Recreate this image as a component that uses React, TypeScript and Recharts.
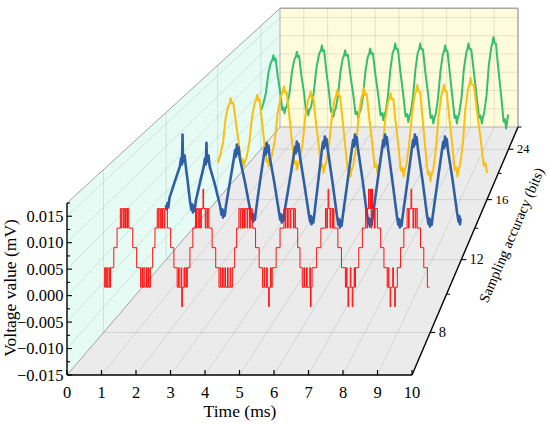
import React from 'react';
import { LineChart, Line, XAxis, YAxis, Customized } from 'recharts';

// ---------- data ----------
const Y_MIN = -0.015;
const Y_MAX = 0.0175;
const X_TICKS = [0, 1, 2, 3, 4, 5, 6, 7, 8, 9, 10];
const Y_TICKS = [-0.015, -0.0125, -0.01, -0.0075, -0.005, -0.0025, 0, 0.0025, 0.005, 0.0075, 0.01, 0.0125, 0.015, 0.0175];
const Y_GRID = [-0.01, -0.005, 0, 0.005, 0.01, 0.015];
const DEPTH_LABELS = ['8', '12', '16', '24'];
const DEPTH_POS = [0.125, 0.375, 0.625, 0.875];
const DEPTH_MINOR = [0.25, 0.5, 0.75, 1];

// 8 bits (red) – [time ms, value]
const RED_POINTS: [number, number][] = [
  [0, -0.002], [0.02, -0.0059], [0.05, -0.002], [0.07, -0.0059], [0.1, -0.002], [0.12, -0.0059], [0.16, -0.002], [0.18, -0.0059],
  [0.2, -0.002], [0.3, 0.002], [0.4, 0.0059], [0.5, 0.0098], [0.53, 0.0059], [0.55, 0.0098], [0.6, 0.0059], [0.62, 0.0098],
  [0.66, 0.0059], [0.68, 0.0098], [0.72, 0.0059], [0.73, 0.0098], [0.76, 0.0059], [0.88, 0.002], [1.0, -0.002], [1.12, -0.0059],
  [1.16, -0.002], [1.18, -0.0059], [1.22, -0.002], [1.25, -0.0059], [1.3, -0.002], [1.32, -0.0059], [1.36, -0.002], [1.38, -0.0059],
  [1.42, -0.002], [1.49, 0.002], [1.56, 0.0059], [1.63, 0.0098], [1.66, 0.0059], [1.68, 0.0098], [1.72, 0.0059], [1.74, 0.0098],
  [1.77, 0.0059], [1.79, 0.0098], [1.84, 0.0059], [1.86, 0.0098], [1.94, 0.0059], [2.04, 0.002], [2.14, -0.002], [2.24, -0.0059],
  [2.28, -0.002], [2.3, -0.0059], [2.36, -0.002], [2.38, -0.0098], [2.4, -0.0059], [2.45, -0.002], [2.47, -0.0059], [2.51, -0.002],
  [2.53, -0.0059], [2.55, -0.002], [2.63, 0.002], [2.72, 0.0059], [2.8, 0.0098], [2.83, 0.0059], [2.85, 0.0098], [2.9, 0.0059],
  [2.92, 0.0098], [2.96, 0.0059], [2.98, 0.0098], [3.03, 0.0137], [3.05, 0.0098], [3.1, 0.0059], [3.12, 0.0098], [3.16, 0.0059],
  [3.18, 0.0098], [3.21, 0.0059], [3.31, 0.002], [3.42, -0.002], [3.52, -0.0059], [3.56, -0.002], [3.58, -0.0059], [3.63, -0.002],
  [3.65, -0.0059], [3.7, -0.002], [3.72, -0.0059], [3.78, -0.002], [3.8, -0.0059], [3.86, -0.002], [3.88, -0.0059], [3.93, -0.002],
  [4.0, 0.002], [4.06, 0.0059], [4.13, 0.0098], [4.17, 0.0059], [4.19, 0.0098], [4.24, 0.0059], [4.26, 0.0098], [4.3, 0.0059],
  [4.32, 0.0098], [4.38, 0.0059], [4.4, 0.0098], [4.46, 0.0059], [4.48, 0.0098], [4.54, 0.0059], [4.64, 0.002], [4.75, -0.002],
  [4.85, -0.0059], [4.9, -0.002], [4.92, -0.0059], [4.98, -0.002], [5.0, -0.0059], [5.04, -0.0098], [5.06, -0.0059], [5.1, -0.002],
  [5.12, -0.0059], [5.15, -0.002], [5.27, 0.002], [5.39, 0.0059], [5.51, 0.0098], [5.55, 0.0059], [5.57, 0.0098], [5.62, 0.0059],
  [5.64, 0.0098], [5.7, 0.0059], [5.72, 0.0098], [5.8, 0.0059], [5.82, 0.0098], [5.86, 0.0059], [5.93, 0.002], [6.0, -0.002],
  [6.07, -0.0059], [6.12, -0.002], [6.14, -0.0059], [6.2, -0.002], [6.22, -0.0059], [6.3, -0.002], [6.32, -0.0098], [6.34, -0.0059],
  [6.37, -0.002], [6.51, 0.002], [6.64, 0.0059], [6.78, 0.0098], [6.82, 0.0059], [6.84, 0.0098], [6.86, 0.0137], [6.88, 0.0098],
  [6.92, 0.0059], [6.94, 0.0098], [7.0, 0.0059], [7.02, 0.0098], [7.04, 0.0059], [7.16, 0.002], [7.27, -0.002], [7.39, -0.0059],
  [7.42, -0.002], [7.44, -0.0059], [7.47, -0.0098], [7.49, -0.0059], [7.54, -0.002], [7.56, -0.0059], [7.6, -0.0098], [7.62, -0.0059],
  [7.66, -0.002], [7.68, -0.0059], [7.7, -0.002], [7.8, 0.002], [7.91, 0.0059], [8.01, 0.0098], [8.05, 0.0059], [8.07, 0.0098],
  [8.1, 0.0137], [8.12, 0.0098], [8.16, 0.0137], [8.18, 0.0059], [8.2, 0.0137], [8.22, 0.0098], [8.28, 0.0059], [8.3, 0.0098],
  [8.37, 0.0059], [8.47, 0.002], [8.57, -0.002], [8.67, -0.0059], [8.7, -0.002], [8.72, -0.0059], [8.76, -0.0098], [8.78, -0.0059],
  [8.84, -0.002], [8.86, -0.0059], [8.9, -0.0098], [8.92, -0.0059], [8.98, -0.002], [9.08, 0.002], [9.18, 0.0059], [9.28, 0.0098],
  [9.32, 0.0059], [9.34, 0.0098], [9.4, 0.0137], [9.42, 0.0098], [9.46, 0.0059], [9.48, 0.0098], [9.53, 0.0059], [9.55, 0.0098],
  [9.59, 0.0059], [9.69, 0.002], [9.79, -0.002], [9.9, -0.0059], [9.96, -0.0059],
];

// 12 bits (blue)
const BLUE_POINTS: [number, number][] = [
  [0, -0.003], [0.02, -0.004], [0.05, -0.0026], [0.08, -0.0036], [0.12, -0.0014], [0.3, 0.0022],
  [0.47, 0.0055], [0.51, 0.0073], [0.54, 0.0059], [0.56, 0.0125], [0.57, 0.0085], [0.6, 0.0065], [0.63, 0.0079], [0.67, 0.0055], [0.74, 0.0019],
  [0.81, -0.0021], [0.86, -0.0041], [0.89, -0.0029], [0.91, -0.0047], [0.94, -0.0033], [0.97, -0.0043], [1.01, -0.0021], [1.15, 0.0019],
  [1.28, 0.0055], [1.32, 0.0073], [1.35, 0.0059], [1.37, 0.0107], [1.38, 0.0085], [1.41, 0.0065], [1.44, 0.0079], [1.48, 0.0055], [1.66, 0.0014],
  [1.83, -0.0032], [1.88, -0.0052], [1.91, -0.004], [1.93, -0.0058], [1.96, -0.0044], [1.99, -0.0054], [2.03, -0.0032], [2.17, 0.0022],
  [2.3, 0.0073], [2.34, 0.0091], [2.37, 0.0077], [2.4, 0.0103], [2.43, 0.0083], [2.46, 0.0097], [2.5, 0.0073], [2.68, 0.0018],
  [2.85, -0.0041], [2.9, -0.0061], [2.93, -0.0049], [2.95, -0.0067], [2.98, -0.0053], [3.01, -0.0063], [3.05, -0.0041], [3.18, 0.002],
  [3.31, 0.0077], [3.35, 0.0095], [3.38, 0.0081], [3.41, 0.0107], [3.44, 0.0087], [3.47, 0.0101], [3.51, 0.0077], [3.67, 0.0019],
  [3.82, -0.0043], [3.87, -0.0063], [3.9, -0.0051], [3.92, -0.0069], [3.95, -0.0055], [3.98, -0.0065], [4.02, -0.0043], [4.18, 0.002],
  [4.33, 0.008], [4.37, 0.0098], [4.4, 0.0084], [4.43, 0.011], [4.46, 0.009], [4.49, 0.0104], [4.53, 0.008], [4.68, 0.0018],
  [4.83, -0.0047], [4.88, -0.0067], [4.91, -0.0055], [4.93, -0.0073], [4.96, -0.0059], [4.99, -0.0069], [5.03, -0.0047], [5.16, 0.0024],
  [5.28, 0.0091], [5.32, 0.0109], [5.35, 0.0095], [5.38, 0.0121], [5.41, 0.0101], [5.44, 0.0115], [5.48, 0.0091], [5.64, 0.002],
  [5.79, -0.0054], [5.84, -0.0074], [5.87, -0.0062], [5.89, -0.008], [5.92, -0.0066], [5.95, -0.0076], [5.99, -0.0054], [6.15, 0.0022],
  [6.3, 0.0095], [6.34, 0.0113], [6.37, 0.0099], [6.4, 0.0125], [6.43, 0.0105], [6.46, 0.0119], [6.5, 0.0095], [6.66, 0.0024],
  [6.81, -0.0052], [6.86, -0.0072], [6.89, -0.006], [6.91, -0.0078], [6.94, -0.0064], [6.97, -0.0074], [7.01, -0.0052], [7.17, 0.0024],
  [7.32, 0.0095], [7.36, 0.0113], [7.39, 0.0099], [7.42, 0.0125], [7.45, 0.0105], [7.48, 0.0119], [7.52, 0.0095], [7.67, 0.0022],
  [7.82, -0.0054], [7.87, -0.0074], [7.9, -0.0062], [7.92, -0.008], [7.95, -0.0066], [7.98, -0.0076], [8.02, -0.0054], [8.18, 0.0022],
  [8.33, 0.0095], [8.37, 0.0113], [8.4, 0.0099], [8.43, 0.0125], [8.46, 0.0105], [8.49, 0.0119], [8.53, 0.0095], [8.69, 0.0024],
  [8.84, -0.0052], [8.89, -0.0072], [8.92, -0.006], [8.94, -0.0078], [8.97, -0.0064], [9.0, -0.0074], [9.04, -0.0052], [9.2, 0.0022],
  [9.35, 0.0091], [9.39, 0.0109], [9.42, 0.0095], [9.45, 0.0121], [9.48, 0.0101], [9.51, 0.0115], [9.55, 0.0091], [9.71, 0.0024],
  [9.86, -0.0047], [9.91, -0.0067], [9.94, -0.0055], [9.96, -0.0073], [9.98, -0.006],
];

// 16 bits (yellow)
const YELLOW_POINTS: [number, number][] = [
  [0, -0.0062], [0.09, -0.0042], [0.19, -0.0012], [0.28, 0.0045], [0.38, 0.0075], [0.44, 0.0083], [0.47, 0.0095], [0.5, 0.0082],
  [0.57, 0.0084], [0.67, 0.0034], [0.76, -0.0009], [0.86, -0.0059], [0.92, -0.0052], [0.96, -0.007], [1.0, -0.0058],
  [1.06, -0.0049], [1.16, -0.0014], [1.26, 0.0047], [1.36, 0.0082], [1.42, 0.0091], [1.46, 0.0103], [1.5, 0.0088],
  [1.54, 0.0092], [1.63, 0.0039], [1.71, -0.0006], [1.8, -0.0059], [1.85, -0.0052], [1.88, -0.007], [1.93, -0.0057],
  [1.99, -0.0047], [2.11, -0.0007], [2.22, 0.006], [2.34, 0.01], [2.41, 0.0111], [2.45, 0.0123], [2.49, 0.0108],
  [2.55, 0.0109], [2.65, 0.005], [2.74, -0.0005], [2.84, -0.0064], [2.9, -0.0058], [2.94, -0.0078], [2.98, -0.0063],
  [3.04, -0.0055], [3.14, -0.0017], [3.24, 0.005], [3.34, 0.0088], [3.4, 0.0099], [3.44, 0.0111], [3.48, 0.0096],
  [3.54, 0.0097], [3.63, 0.0039], [3.73, -0.0014], [3.82, -0.0072], [3.88, -0.0066], [3.92, -0.0086], [3.96, -0.0071],
  [4.02, -0.0062], [4.12, -0.0021], [4.23, 0.005], [4.33, 0.0091], [4.39, 0.0102], [4.43, 0.0115], [4.47, 0.0101],
  [4.53, 0.01], [4.63, 0.0039], [4.72, -0.0019], [4.82, -0.008], [4.88, -0.0073], [4.92, -0.0095], [4.96, -0.0079],
  [5.02, -0.007], [5.12, -0.0025], [5.22, 0.0049], [5.32, 0.0094], [5.38, 0.0106], [5.42, 0.0119], [5.46, 0.0103],
  [5.52, 0.0105], [5.62, 0.0044], [5.72, -0.0011], [5.82, -0.0072], [5.88, -0.0066], [5.92, -0.0086], [5.96, -0.0071],
  [6.02, -0.0063], [6.12, -0.0023], [6.21, 0.0044], [6.31, 0.0084], [6.37, 0.0094], [6.41, 0.0107], [6.45, 0.0092],
  [6.51, 0.0093], [6.6, 0.0033], [6.7, -0.0021], [6.79, -0.0081], [6.85, -0.0074], [6.89, -0.0095], [6.93, -0.0079],
  [6.99, -0.0069], [7.09, -0.0022], [7.2, 0.0054], [7.3, 0.0101], [7.36, 0.0112], [7.4, 0.0127], [7.44, 0.0111],
  [7.5, 0.011], [7.6, 0.0042], [7.69, -0.0022], [7.79, -0.009], [7.85, -0.0083], [7.89, -0.0107], [7.93, -0.0089],
  [7.99, -0.008], [8.09, -0.003], [8.19, 0.005], [8.29, 0.01], [8.35, 0.0113], [8.39, 0.0127], [8.43, 0.0112],
  [8.49, 0.0111], [8.59, 0.0046], [8.69, -0.0014], [8.79, -0.0079], [8.85, -0.0073], [8.89, -0.0095], [8.93, -0.0079],
  [8.99, -0.0067], [9.09, -0.0017], [9.18, 0.0066], [9.28, 0.0116], [9.34, 0.0128], [9.38, 0.0144], [9.42, 0.0128],
  [9.5, 0.0127], [9.62, 0.0061], [9.75, -0.0003], [9.87, -0.0069], [9.93, -0.0062], [9.99, -0.0086],
];

// 24 bits (green)
const GREEN_POINTS: [number, number][] = [
  [0, -0.0047], [0.1, -0.0028], [0.2, -0.0001], [0.3, 0.0052], [0.4, 0.0079], [0.46, 0.0086], [0.5, 0.0098], [0.54, 0.0084],
  [0.59, 0.0089], [0.68, 0.0041], [0.77, 0.0002], [0.86, -0.0046], [0.91, -0.004], [0.95, -0.0055], [0.99, -0.0042],
  [1.05, -0.0035], [1.15, -0.0003], [1.25, 0.0055], [1.35, 0.0087], [1.41, 0.0095], [1.45, 0.0107], [1.49, 0.0093],
  [1.54, 0.0096], [1.63, 0.0045], [1.73, 0.0002], [1.82, -0.0049], [1.87, -0.0043], [1.91, -0.006], [1.95, -0.0046],
  [2.02, -0.0038], [2.13, -0.0001], [2.24, 0.0065], [2.35, 0.0102], [2.42, 0.0111], [2.46, 0.0124], [2.5, 0.0109],
  [2.55, 0.0111], [2.64, 0.0055], [2.74, 0.0005], [2.83, -0.0051], [2.88, -0.0045], [2.92, -0.0064], [2.96, -0.005],
  [3.02, -0.0042], [3.11, -0.0008], [3.21, 0.0055], [3.3, 0.0089], [3.36, 0.0098], [3.4, 0.0111], [3.44, 0.0097],
  [3.51, 0.0099], [3.61, 0.0045], [3.72, -0.0003], [3.82, -0.0057], [3.88, -0.0051], [3.93, -0.0069], [3.97, -0.0055],
  [4.03, -0.0046], [4.12, -0.0009], [4.22, 0.0056], [4.31, 0.0093], [4.37, 0.0102], [4.41, 0.0116], [4.45, 0.0102],
  [4.52, 0.0103], [4.62, 0.0047], [4.73, -0.0004], [4.83, -0.006], [4.89, -0.0054], [4.94, -0.0073], [4.98, -0.0058],
  [5.04, -0.0049], [5.13, -0.0007], [5.23, 0.0063], [5.32, 0.0105], [5.38, 0.0115], [5.42, 0.0129], [5.46, 0.0114],
  [5.53, 0.0114], [5.63, 0.0054], [5.74, -0.0003], [5.84, -0.0063], [5.9, -0.0057], [5.95, -0.0078], [5.99, -0.0062],
  [6.05, -0.0053], [6.14, -0.0011], [6.24, 0.0062], [6.33, 0.0104], [6.39, 0.0115], [6.43, 0.0129], [6.47, 0.0114],
  [6.54, 0.0114], [6.64, 0.0052], [6.75, -0.0005], [6.85, -0.0067], [6.91, -0.0061], [6.96, -0.0082], [7.0, -0.0066],
  [7.06, -0.0057], [7.15, -0.0015], [7.25, 0.0057], [7.34, 0.0099], [7.4, 0.011], [7.44, 0.0124], [7.48, 0.0109],
  [7.53, 0.0109], [7.63, 0.0049], [7.72, -0.0007], [7.82, -0.0067], [7.87, -0.0061], [7.91, -0.0082], [7.95, -0.0066],
  [8.0, -0.0057], [8.1, -0.0013], [8.19, 0.006], [8.29, 0.0104], [8.34, 0.0115], [8.38, 0.0129], [8.42, 0.0114],
  [8.49, 0.0114], [8.6, 0.0052], [8.7, -0.0005], [8.81, -0.0067], [8.87, -0.0061], [8.92, -0.0082], [8.96, -0.0066],
  [9.01, -0.0055], [9.11, -0.0007], [9.2, 0.0071], [9.3, 0.0119], [9.35, 0.0131], [9.39, 0.0146], [9.43, 0.013],
  [9.49, 0.0128], [9.59, 0.0059], [9.7, -0.0008], [9.8, -0.0077], [9.85, -0.007], [9.9, -0.0095], [9.98, -0.0058],
];

// ---------- layout (3D box geometry) ----------
const FL = 67, FR = 412, FB = 375, FT = 203; // front face
const BL = 280, BR = 518, BB = 127; // back face
const SB = (BR - BL) / (FR - FL);
const VX = (BL - FL * SB) / (1 - SB);
const VY = (BB - FB * SB) / (1 - SB);
const KZ = 1 / SB - 1;
const sAt = (z: number) => 1 / (1 + KZ * z);
const proj = (x: number, y: number, z: number): [number, number] => {
  const s = sAt(z);
  return [VX + (x - VX) * s, VY + (y - VY) * s];
};
const fx = (t: number) => FL + (t / 10) * (FR - FL);
const fy = (v: number) => FB - ((v - Y_MIN) / (Y_MAX - Y_MIN)) * (FB - FT);

const TXT = { fontFamily: 'Liberation Serif' };
const GRID = 'rgba(0,0,0,0.13)';

const pts = (arr: [number, number][]) => arr.map((p) => p.join(',')).join(' ');

function Planes() {
  const floor: [number, number][] = [proj(FL, FB, 0), proj(FR, FB, 0), proj(FR, FB, 1), proj(FL, FB, 1)];
  const side: [number, number][] = [proj(FL, FB, 0), proj(FL, FT, 0), proj(FL, FT, 1), proj(FL, FB, 1)];
  const back: [number, number][] = [proj(FL, FT, 1), proj(FR, FT, 1), proj(FR, FB, 1), proj(FL, FB, 1)];
  const seg = (a: [number, number], b: [number, number], key: string, stroke = GRID, w = 0.8) => (
    <line key={key} x1={a[0]} y1={a[1]} x2={b[0]} y2={b[1]} stroke={stroke} strokeWidth={w} />
  );
  const inner = X_TICKS.filter((t) => t > 0 && t < 10);
  return (
    <g>
      <polygon points={pts(floor)} fill="#ebebeb" />
      <polygon points={pts(side)} fill="#e5fbf4" />
      <polygon points={pts(back)} fill="#fffcdc" />
      {inner.map((t) => seg(proj(fx(t), FB, 0), proj(fx(t), FB, 1), 'ft' + t))}
      {DEPTH_POS.map((z) => seg(proj(FL, FB, z), proj(FR, FB, z), 'fz' + z))}
      {Y_GRID.map((v) => seg(proj(FL, fy(v), 0), proj(FL, fy(v), 1), 'sv' + v))}
      {DEPTH_POS.map((z) => seg(proj(FL, FB, z), proj(FL, FT, z), 'sz' + z))}
      {inner.map((t) => seg(proj(fx(t), FB, 1), proj(fx(t), FT, 1), 'bt' + t))}
      {Y_GRID.map((v) => seg(proj(FL, fy(v), 1), proj(FR, fy(v), 1), 'bv' + v))}
      {seg(proj(FL, FT, 0), proj(FL, FT, 1), 'e1', '#a0a0a0', 1)}
      {seg(proj(FL, FB, 0), proj(FL, FB, 1), 'e2', '#a0a0a0', 1)}
      {seg(proj(FL, FT, 1), proj(FR, FT, 1), 'e3', '#a8a8a8', 1.5)}
      {seg(proj(FR, FT, 1), proj(FR, FB, 1), 'e4', '#a8a8a8', 1.5)}
      {seg(proj(FL, FB, 1), proj(FR, FB, 1), 'e5', '#b0b0b0', 1)}
      {seg(proj(FL, FT, 1), proj(FL, FB, 1), 'e6', '#b0b0b0', 1)}
    </g>
  );
}

function DepthAxis() {
  const a = proj(FR, FB, 0);
  const b = proj(FR, FB, 1);
  const ang = (Math.atan2(b[1] - a[1], b[0] - a[0]) * 180) / Math.PI;
  return (
    <g>
      <line x1={a[0]} y1={a[1]} x2={b[0]} y2={b[1]} stroke="#000" strokeWidth={1.4} />
      {DEPTH_POS.map((z, i) => {
        const [x, y] = proj(FR, FB, z);
        const fs = 6 + 9 * sAt(z);
        return (
          <g key={'d' + i}>
            <line x1={x} y1={y} x2={x + 5} y2={y} stroke="#000" strokeWidth={1.1} />
            <text x={x + 8.5} y={y + fs * 0.34} fontSize={fs} style={TXT} fill="#000">
              {DEPTH_LABELS[i]}
            </text>
          </g>
        );
      })}
      {DEPTH_MINOR.map((z) => {
        const [x, y] = proj(FR, FB, z);
        return <line key={'m' + z} x1={x} y1={y} x2={x + 3.5} y2={y} stroke="#000" strokeWidth={1} />;
      })}
      <text transform={`translate(516,237) rotate(${ang})`} textAnchor="middle" fontSize={14.5} style={TXT} fill="#000">
        Sampling accuracy (bits)
      </text>
    </g>
  );
}

function Titles() {
  return (
    <g>
      <text x={240} y={417} textAnchor="middle" fontSize={17.5} style={TXT} fill="#000">
        Time (ms)
      </text>
      <text transform="translate(15.5,288) rotate(-90)" textAnchor="middle" fontSize={17.5} style={TXT} fill="#000">
        Voltage value (mV)
      </text>
    </g>
  );
}

const fmtY = (v: number) => (v < 0 ? '\u2212' : '') + Math.abs(v).toFixed(3);

const XTick = (props: any) => {
  const { x, y, payload } = props;
  return (
    <g>
      <line x1={x} y1={y} x2={x} y2={y - 5} stroke="#000" strokeWidth={1.2} />
      <text x={x} y={y + 23} textAnchor="middle" fontSize={16.5} style={TXT} fill="#000">
        {payload.value}
      </text>
    </g>
  );
};

const YTick = (props: any) => {
  const { x, y, payload } = props;
  const v = payload.value as number;
  const major = Math.abs(Math.round(v * 10000)) % 50 === 0;
  return (
    <g>
      <line x1={x} y1={y} x2={x + (major ? 5 : 3)} y2={y} stroke="#000" strokeWidth={1.1} />
      {major && (
        <text x={x - 3.5} y={y + 5.8} textAnchor="end" fontSize={16.5} style={TXT} fill="#000">
          {fmtY(v)}
        </text>
      )}
    </g>
  );
};

const FRAME_DATA = [
  { t: 0, v: 0 },
  { t: 10, v: 0 },
];
const MARGIN = { top: FT, left: FL, right: 550 - FR, bottom: 424 - FB };
// axis chart reserves 1px for each axis band
const AXIS_MARGIN = { top: FT, left: FL - 1, right: 550 - FR, bottom: 424 - FB - 1 };

function SeriesLayer({ points, z, color, width, type }: { points: [number, number][]; z: number; color: string; width: number; type: any }) {
  const s = sAt(z);
  const [left, top] = proj(FL, FT, z);
  const w = (FR - FL) * s;
  const h = (FB - FT) * s;
  const data = points.map(([t, v]) => ({ t, v }));
  return (
    <div style={{ position: 'absolute', left, top, width: w, height: h }}>
      <LineChart width={w} height={h} data={data} margin={{ top: 0, right: 0, bottom: 0, left: 0 }}>
        <XAxis dataKey="t" type="number" domain={[0, 10]} hide />
        <YAxis type="number" domain={[Y_MIN, Y_MAX]} hide />
        <Line dataKey="v" type={type} stroke={color} strokeWidth={width} strokeLinejoin="round" dot={false} isAnimationActive={false} />
      </LineChart>
    </div>
  );
}

export default function App() {
  return (
    <div style={{ position: 'absolute', left: 0, top: 0, width: 550, height: 424, background: '#fff', overflow: 'hidden' }}>
      <style>{'.recharts-surface{overflow:visible}'}</style>
      <div style={{ position: 'absolute', left: 0, top: 0 }}>
        <LineChart width={550} height={424} data={FRAME_DATA} margin={MARGIN}>
          <XAxis dataKey="t" type="number" domain={[0, 10]} hide />
          <YAxis type="number" domain={[Y_MIN, Y_MAX]} hide />
          <Customized component={Planes} />
        </LineChart>
      </div>
      <SeriesLayer points={GREEN_POINTS} z={DEPTH_POS[3]} color="#33bf6f" width={2} type="linear" />
      <SeriesLayer points={YELLOW_POINTS} z={DEPTH_POS[2]} color="#fbbf0e" width={2} type="linear" />
      <SeriesLayer points={BLUE_POINTS} z={DEPTH_POS[1]} color="#2e5fa6" width={2.6} type="linear" />
      <SeriesLayer points={RED_POINTS} z={DEPTH_POS[0]} color="#ff1010" width={1} type="stepAfter" />
      <div style={{ position: 'absolute', left: 0, top: 0 }}>
        <LineChart width={550} height={424} data={FRAME_DATA} margin={AXIS_MARGIN}>
          <XAxis
            dataKey="t"
            type="number"
            domain={[0, 10]}
            ticks={X_TICKS}
            interval={0}
            height={1}
            tickSize={0}
            tickMargin={0}
            tickLine={false}
            axisLine={{ stroke: '#000', strokeWidth: 1.4 }}
            tick={<XTick />}
          />
          <YAxis
            type="number"
            domain={[Y_MIN, Y_MAX]}
            ticks={Y_TICKS}
            interval={0}
            width={1}
            tickSize={0}
            tickMargin={0}
            tickLine={false}
            axisLine={{ stroke: '#000', strokeWidth: 1.4 }}
            tick={<YTick />}
          />
          <Line dataKey="v" stroke="none" dot={false} isAnimationActive={false} />
          <Customized component={DepthAxis} />
          <Customized component={Titles} />
        </LineChart>
      </div>
    </div>
  );
}
